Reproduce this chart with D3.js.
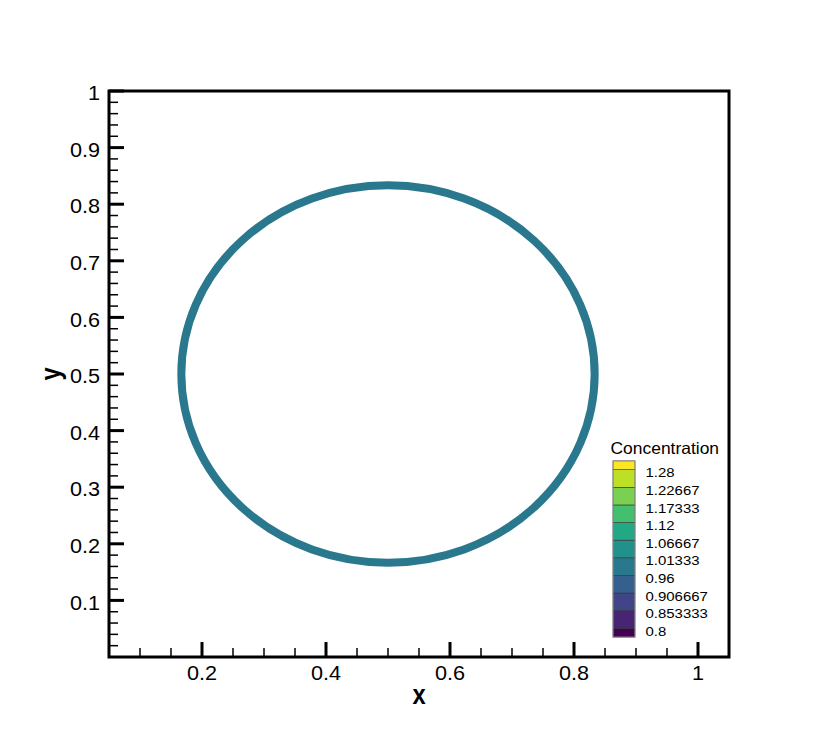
<!DOCTYPE html>
<html>
<head>
<meta charset="utf-8">
<script src="https://cdn.jsdelivr.net/npm/d3@7"></script>
<style>
  body { margin: 0; background: #fff; }
  svg { display: block; font-family: "Liberation Sans", Arial, Helvetica, sans-serif; }
</style>
</head>
<body>
<div id="chart"></div>
<script>
// Circle of constant concentration: centre and radius in data units
const circleCenter = [0.5, 0.5];
const circleRadius = 1 / 3;
const circleValue = 1.0;

// Tick values for both axes
const xTicks = [0.2, 0.4, 0.6, 0.8, 1];
const xMinorTicks = [0.1, 0.15, 0.25, 0.3, 0.35, 0.45, 0.5, 0.55, 0.65, 0.7, 0.75, 0.85, 0.9, 0.95, 1.05];
const yTicks = [0.1, 0.2, 0.3, 0.4, 0.5, 0.6, 0.7, 0.8, 0.9, 1];
const yMinorTicks = d3.range(1, 50).map(i => i / 50).filter(v => Math.round(v * 50) % 5 !== 0);

// Contour levels shown in the legend
const levelLabels = ['1.28', '1.22667', '1.17333', '1.12', '1.06667', '1.01333', '0.96', '0.906667', '0.853333', '0.8'];
const levels = levelLabels.map(Number);

const width = 830;
const height = 739;

const svg = d3.select('#chart')
  .append('svg')
  .attr('width', width)
  .attr('height', height);

const x = d3.scaleLinear().domain([0.05, 1.05]).range([109, 729]);
const y = d3.scaleLinear().domain([0, 1]).range([657, 91]);

// colour scale for the contour bands (one flat colour per band)
const minLevel = d3.min(levels);
const maxLevel = d3.max(levels);
const step = (maxLevel - minLevel) / (levels.length - 1);
const bandIndex = v => Math.max(0, Math.min(levels.length, Math.floor((v - minLevel) / step + 1e-9) + 1));
const color = v => d3.interpolateViridis(bandIndex(v) / levels.length);

// The circle (drawn as an ellipse in pixel space because the axes differ)
svg.append('ellipse')
  .attr('cx', x(circleCenter[0]))
  .attr('cy', y(circleCenter[1]))
  .attr('rx', x(circleCenter[0] + circleRadius) - x(circleCenter[0]))
  .attr('ry', y(circleCenter[1]) - y(circleCenter[1] + circleRadius))
  .attr('fill', 'none')
  .attr('stroke', color(circleValue))
  .attr('stroke-width', 8);

// Minor ticks
svg.append('g')
  .selectAll('line')
  .data(xMinorTicks)
  .join('line')
  .attr('x1', d => x(d)).attr('x2', d => x(d))
  .attr('y1', y(0)).attr('y2', y(0) - 9)
  .attr('stroke', '#000').attr('stroke-width', 1.5);

svg.append('g')
  .selectAll('line')
  .data(yMinorTicks)
  .join('line')
  .attr('x1', x(0.05)).attr('x2', x(0.05) + 9)
  .attr('y1', d => y(d)).attr('y2', d => y(d))
  .attr('stroke', '#000').attr('stroke-width', 1.5);

// Major ticks
svg.append('g')
  .selectAll('line')
  .data(xTicks)
  .join('line')
  .attr('x1', d => x(d)).attr('x2', d => x(d))
  .attr('y1', y(0)).attr('y2', y(0) - 15)
  .attr('stroke', '#000').attr('stroke-width', 3);

svg.append('g')
  .selectAll('line')
  .data(yTicks)
  .join('line')
  .attr('x1', x(0.05)).attr('x2', x(0.05) + 15)
  .attr('y1', d => y(d)).attr('y2', d => y(d))
  .attr('stroke', '#000').attr('stroke-width', 3);

// Frame
svg.append('rect')
  .attr('x', x(0.05))
  .attr('y', y(1))
  .attr('width', x(1.05) - x(0.05))
  .attr('height', y(0) - y(1))
  .attr('fill', 'none')
  .attr('stroke', '#000')
  .attr('stroke-width', 3);

// Tick labels (the reference font is a little wider than Liberation Sans,
// so stretch the labels horizontally)
svg.append('g')
  .selectAll('text')
  .data(xTicks)
  .join('text')
  .attr('transform', d => `translate(${x(d)}, 679.5) scale(1.11, 1)`)
  .attr('text-anchor', 'middle')
  .style('font-size', '19.5px')
  .text(d => d3.format('~g')(d));

svg.append('g')
  .selectAll('text')
  .data(yTicks)
  .join('text')
  .attr('transform', d => `translate(${x(0.05) - 9}, ${y(d) + 9.1}) scale(1.11, 1)`)
  .attr('text-anchor', 'end')
  .style('font-size', '19.5px')
  .text(d => d3.format('~g')(d));

// Axis titles
svg.append('text')
  .attr('transform', `translate(${(x(0.05) + x(1.05)) / 2}, 704) scale(0.85, 1)`)
  .attr('text-anchor', 'middle')
  .style('font-size', '28px')
  .style('font-weight', 'bold')
  .text('x');

svg.append('text')
  .attr('transform', `translate(59.5, ${(y(0) + y(1)) / 2}) rotate(-90) scale(0.85, 1)`)
  .attr('text-anchor', 'middle')
  .style('font-size', '28px')
  .style('font-weight', 'bold')
  .text('y');

// Legend
const ly = d3.scaleLinear().domain([minLevel, maxLevel]).range([628.3, 469.7]);
const legend = svg.append('g');

// bands: bottom cap, bands between levels, top cap
const bandEdges = [minLevel - step / 2].concat(levels.slice().sort(d3.ascending)).concat([maxLevel + step / 2]);
const bands = d3.range(bandEdges.length - 1).map(i => ({
  lo: bandEdges[i],
  hi: bandEdges[i + 1]
}));

legend.selectAll('rect.band')
  .data(bands)
  .join('rect')
  .attr('class', 'band')
  .attr('x', 613)
  .attr('width', 22)
  .attr('y', d => ly(d.hi))
  .attr('height', d => ly(d.lo) - ly(d.hi))
  .attr('fill', d => color((d.lo + d.hi) / 2))
  .attr('stroke', '#333')
  .attr('stroke-width', 0.6);

legend.append('rect')
  .attr('x', 613)
  .attr('width', 22)
  .attr('y', ly(maxLevel + step / 2))
  .attr('height', ly(minLevel - step / 2) - ly(maxLevel + step / 2))
  .attr('fill', 'none')
  .attr('stroke', '#999')
  .attr('stroke-width', 1);

legend.selectAll('text.lab')
  .data(levelLabels)
  .join('text')
  .attr('class', 'lab')
  .attr('transform', d => `translate(645.5, ${ly(+d) + 7.6}) scale(1.15, 1)`)
  .style('font-size', '13px')
  .text(d => d);

legend.append('text')
  .attr('transform', 'translate(610.5, 453.7) scale(1.07, 1)')
  .style('font-size', '16.3px')
  .text('Concentration');
</script>
</body>
</html>
